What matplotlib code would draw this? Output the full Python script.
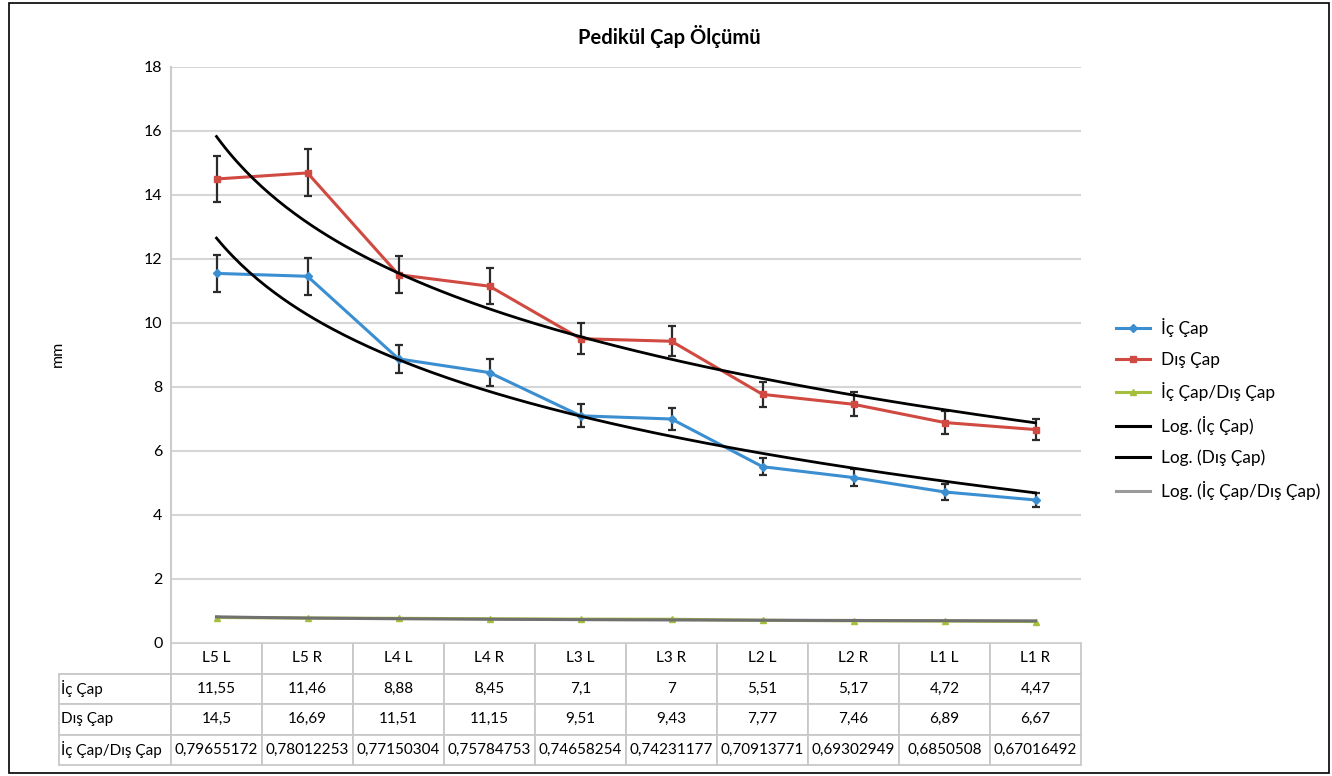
import numpy as np
import matplotlib
matplotlib.use('Agg')
import matplotlib.pyplot as plt
from matplotlib.lines import Line2D
from matplotlib.patches import Rectangle

plt.rcParams['font.family'] = ['Lato', 'DejaVu Sans']

# data
levels = ['L5 L', 'L5 R', 'L4 L', 'L4 R', 'L3 L', 'L3 R', 'L2 L', 'L2 R', 'L1 L', 'L1 R']
ic_cap = [11.55, 11.46, 8.88, 8.45, 7.1, 7.0, 5.51, 5.17, 4.72, 4.47]
dis_cap = [14.5, 14.69, 11.51, 11.15, 9.51, 9.43, 7.77, 7.46, 6.89, 6.67]
oran = [0.79655172, 0.78012253, 0.77150304, 0.75784753, 0.74658254,
        0.74231177, 0.70913771, 0.69302949, 0.6850508, 0.67016492]

# table text as printed in the source (note the 16,69 entry)
row_names = ['İç Çap', 'Dış Çap', 'İç Çap/Dış Çap']
ic_txt = ['11,55', '11,46', '8,88', '8,45', '7,1', '7', '5,51', '5,17', '4,72', '4,47']
dis_txt = ['14,5', '16,69', '11,51', '11,15', '9,51', '9,43', '7,77', '7,46', '6,89', '6,67']
oran_txt = ['0,79655172', '0,78012253', '0,77150304', '0,75784753', '0,74658254',
            '0,74231177', '0,70913771', '0,69302949', '0,6850508', '0,67016492']

BLUE = '#3b8fd1'
RED = '#d04a42'
GREEN = '#a3bf3c'


def log_trend(y):
    # excel style logarithmic trendline y = a*ln(x) + b
    x = np.arange(1, len(y) + 1)
    a, b = np.polyfit(np.log(x), y, 1)
    xs = np.linspace(1, len(y), 200)
    return xs - 1, a * np.log(xs) + b


W, H = 1332, 776
AX_L, AX_R, AX_T, AX_B = 171, 1081, 67, 643
aw, ah = AX_R - AX_L, AX_B - AX_T
fig = plt.figure(figsize=(W / 100, H / 100), dpi=100)
ax = fig.add_axes([AX_L / W, 1 - AX_B / H, aw / W, ah / H])

x = np.arange(len(levels))

ax.errorbar(x, ic_cap, yerr=0.05 * np.array(ic_cap), color=BLUE, lw=2.2, marker='D', ms=4,
            ecolor='#2b2b2b', elinewidth=1.6, capsize=3, capthick=1.6, zorder=3)
ax.errorbar(x, dis_cap, yerr=0.05 * np.array(dis_cap), color=RED, lw=2.2, marker='s', ms=4,
            ecolor='#2b2b2b', elinewidth=1.6, capsize=3, capthick=1.6, zorder=3)
ax.plot(x, oran, color=GREEN, lw=2.2, marker='^', ms=5, zorder=3)

tx, ty = log_trend(ic_cap)
ax.plot(tx, ty, color='black', lw=2, zorder=4)
tx, ty = log_trend(dis_cap)
ax.plot(tx, ty, color='black', lw=2, zorder=4)
tx, ty = log_trend(oran)
ax.plot(tx, ty, color='#707070', lw=2.2, zorder=4)

ax.set_xlim(-0.5, len(levels) - 0.5)
ax.set_ylim(0, 18)
ax.set_yticks(np.arange(0, 19, 2))
ax.tick_params(axis='y', length=0, labelsize=11.5, pad=6)
ax.set_xticks([])
ax.grid(axis='y', color='#d6d6d6', lw=1.5)
ax.set_axisbelow(True)
for s in ['top', 'right', 'bottom']:
    ax.spines[s].set_visible(False)
ax.spines['left'].set_color('#cccccc')
ax.spines['left'].set_linewidth(1.5)

# data table under the plot
cell_text = [[''] + levels,
             [row_names[0]] + ic_txt,
             [row_names[1]] + dis_txt,
             [row_names[2]] + oran_txt]
lab_px = 112
lab_w = lab_px / (lab_px + aw)
col_w = (1 - lab_w) / len(levels)
tab = ax.table(cellText=cell_text, colWidths=[lab_w] + [col_w] * len(levels),
               cellLoc='center', bbox=[-lab_px / aw, -122 / ah, (lab_px + aw) / aw, 122 / ah])
tab.auto_set_font_size(False)
for (r, c), cell in tab.get_celld().items():
    cell.set_edgecolor('#c8c8c8')
    cell.set_linewidth(1.3)
    cell.get_text().set_fontsize(11)
    if c == 0:
        cell.get_text().set_horizontalalignment('left')
        cell._loc = 'left'
        cell.PAD = 0.02
    if r == 0 and c == 0:
        cell.visible_edges = 'B'

fig.text(669 / W, 1 - 36 / H, 'Pedikül Çap Ölçümü', ha='center', va='center',
         fontsize=14.5, fontweight='bold')
fig.text(58 / W, 1 - 354 / H, 'mm', ha='center', va='center', rotation=90, fontsize=11.5)

handles = [
    Line2D([], [], color=BLUE, lw=2.2, marker='D', ms=4),
    Line2D([], [], color=RED, lw=2.2, marker='s', ms=4),
    Line2D([], [], color=GREEN, lw=2.2, marker='^', ms=5),
    Line2D([], [], color='black', lw=2.2),
    Line2D([], [], color='black', lw=2.2),
    Line2D([], [], color='#9a9a9a', lw=2.2),
]
labels = ['İç Çap', 'Dış Çap', 'İç Çap/Dış Çap', 'Log. (İç Çap)', 'Log. (Dış Çap)',
          'Log. (İç Çap/Dış Çap)']
fig.legend(handles, labels, loc='center left', bbox_to_anchor=(1100 / W, 1 - 409 / H),
           frameon=False, fontsize=12.4, handlelength=2.0, handletextpad=0.65, labelspacing=0.85)

fig.patches.append(Rectangle((9 / W, 3 / H), 1320 / W, 770 / H, transform=fig.transFigure,
                             fill=False, edgecolor='black', lw=1.2))

fig.savefig('out.png', dpi=100)
